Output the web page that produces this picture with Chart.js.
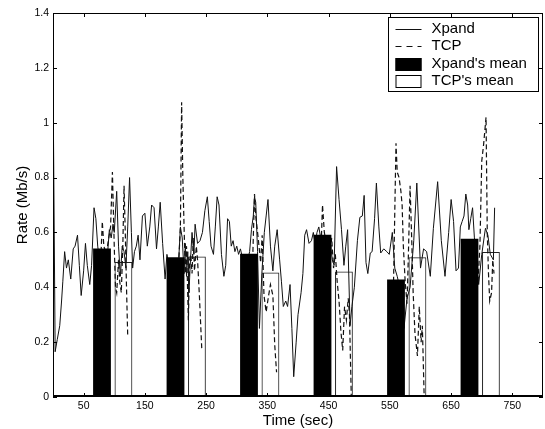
<!DOCTYPE html>
<html><head><meta charset="utf-8">
<script src="https://cdn.jsdelivr.net/npm/chart.js@4.4.1/dist/chart.umd.min.js"></script>
<style>html,body{margin:0;padding:0;background:#fff}canvas{display:block}</style>
</head><body>
<canvas id="c" width="545" height="429"></canvas>
<script>
// ---- data ----
const seriesLabels = ['Xpand', 'TCP', "Xpand's mean", "TCP's mean"];

const xpandT = [0,3.5,7,11,14,16,19,22,25,29,33,36,40,43,46,50,53,56,60,63,67,70,73,77,81,85,89,92,95,98,100,104,107,110,113,116,119,122,125,128,130,133,136,139,142,146,150,154,158,161,165,169,172,175,179,183,186,190,195,200,205,208,211,214,216,218,220,222,224,227,230,232,236,240,244,248,252,255,258,262,265,268,271,275,279,282,285,288,291,294,297,300,303,306,310,314,318,321,324,327,329,331,334,337,341,345,348,351,355,359,362,366,370,373,376,380,383,387,390,393,397,400,405,408,411,414,418,422,425,428,431,434,437,441,445,449,453,456,459,463,467,471,475,478,481,485,488,492,497,501,505,508,511,514,518,521,525,528,532,535,540,545,549,554,558,562,566,570,573,578,583,589,594,600,605,610,616,621,628,634,640,646,650,654,658,662,665,668,671,674,677,679,682,685,688,691,695,700,706,710,714,719,721];
const xpandV = [1.18,0.165,0.21,0.26,0.35,0.42,0.53,0.47,0.50,0.43,0.54,0.55,0.59,0.48,0.37,0.46,0.56,0.48,0.41,0.48,0.69,0.65,0.55,0.48,0.50,0.47,0.52,0.61,0.58,0.63,0.60,0.75,0.55,0.44,0.55,0.53,0.47,0.62,0.80,0.60,0.47,0.53,0.55,0.59,0.50,0.66,0.67,0.55,0.62,0.70,0.69,0.54,0.62,0.71,0.56,0.43,0.52,0.47,0.44,0.46,0.49,0.62,0.58,0.45,0.56,0.44,0.53,0.38,0.48,0.60,0.52,0.63,0.56,0.57,0.60,0.68,0.73,0.64,0.55,0.52,0.62,0.73,0.70,0.52,0.44,0.48,0.65,0.64,0.55,0.57,0.53,0.55,0.52,0.54,0.50,0.47,0.50,0.53,0.61,0.66,0.73,0.71,0.53,0.25,0.45,0.60,0.66,0.72,0.55,0.46,0.55,0.61,0.50,0.42,0.33,0.35,0.33,0.41,0.25,0.074,0.20,0.30,0.38,0.45,0.59,0.61,0.56,0.57,0.60,0.56,0.60,0.62,0.58,0.55,0.52,0.50,0.56,0.50,0.48,0.84,0.72,0.61,0.48,0.55,0.61,0.26,0.33,0.40,0.57,0.655,0.66,0.735,0.49,0.45,0.525,0.53,0.65,0.78,0.62,0.525,0.54,0.53,0.52,0.60,0.47,0.44,0.40,0.30,0.25,0.36,0.40,0.57,0.78,0.47,0.54,0.53,0.44,0.615,0.785,0.57,0.44,0.60,0.72,0.64,0.46,0.47,0.62,0.64,0.66,0.74,0.70,0.61,0.65,0.69,0.58,0.50,0.41,0.52,0.615,0.59,0.52,0.50,0.69];

const tcpT = [78,80.5,83,87,91,94,97,100,102,104,107,109,111.5,114,116,118,120,122,123,
  205,208,210,212,214,216,218,221,223,225,227,229,231,234,236,239,243,244,
  326,329,331,335,339,341.5,344.5,348,352,355,359,362,365,366,
  437,440,443,447,451,455,458,461,464,467,470,473,476,479,482,484,487,488,
  556,560,562,565,568,570,572,575,578,580,583,586,588,591,595,598,601,603,606,607,
  694,697,700,703,707,709,711,713,716,718,720];
const tcpV = [0.50,0.64,0.55,0.52,0.58,0.62,0.82,0.55,0.40,0.38,0.50,0.42,0.38,0.55,0.77,0.60,0.40,0.22,null,
  0.48,0.62,1.075,0.80,0.62,0.45,0.55,0.28,0.50,0.52,0.45,0.58,0.46,0.55,0.50,0.37,0.17,null,
  0.50,0.74,0.66,0.58,0.49,0.59,0.37,0.31,0.37,0.41,0.37,0.19,0.09,null,
  0.50,0.70,0.60,0.55,0.50,0.58,0.47,0.52,0.42,0.35,0.24,0.17,0.33,0.28,0.36,0.30,0.0,null,
  0.42,0.925,0.82,0.80,0.75,0.70,0.55,0.42,0.34,0.50,0.77,0.55,0.38,0.23,0.15,0.33,0.20,0.26,0.0,null,
  0.42,0.55,0.86,0.92,1.02,0.60,0.45,0.35,0.38,0.50,0.45];

const xpandMeanT = [80, 200, 320, 440, 560, 680];
const xpandMean  = [0.54, 0.508, 0.521, 0.59, 0.427, 0.576];
const tcpMeanT   = [115, 235, 355, 475, 595, 715];
const tcpMean    = [0.491, 0.511, 0.453, 0.456, 0.508, 0.527];

const xTicks = [50, 150, 250, 350, 450, 550, 650, 750];
const xTickLabels = ['50', '150', '250', '350', '450', '550', '650', '750'];
const yTicks = [0, 0.2, 0.4, 0.6, 0.8, 1.0, 1.2, 1.4];
const yTickLabels = ['0', '0.2', '0.4', '0.6', '0.8', '1', '1.2', '1.4'];

// ---- styling ----
const FONT = '"Liberation Sans", Arial, Helvetica, sans-serif';
const BAR_SEC = 28; // bar width in seconds
const zip = (t, v) => t.map((x, i) => ({ x: x, y: v[i] }));

const framePlugin = {
  id: 'frame',
  afterDraw(chart) {
    const { ctx, chartArea: a, scales: { x, y } } = chart;
    ctx.save();
    ctx.strokeStyle = '#000';
    ctx.lineWidth = 1;
    ctx.strokeRect(a.left + 0.5, a.top + 0.5, a.right - a.left - 1, a.bottom - a.top - 1);
    ctx.lineWidth = 2;
    ctx.beginPath(); ctx.moveTo(a.left, a.bottom - 1); ctx.lineTo(a.right, a.bottom - 1); ctx.stroke();
    ctx.lineWidth = 1;
    const L = 4;
    ctx.beginPath();
    xTicks.forEach(v => {
      const px = Math.round(x.getPixelForValue(v)) + 0.5;
      ctx.moveTo(px, a.bottom); ctx.lineTo(px, a.bottom - L);
      ctx.moveTo(px, a.top); ctx.lineTo(px, a.top + L);
    });
    yTicks.forEach(v => {
      const py = Math.round(y.getPixelForValue(v)) + 0.5;
      ctx.moveTo(a.left, py); ctx.lineTo(a.left + L, py);
      ctx.moveTo(a.right, py); ctx.lineTo(a.right - L, py);
    });
    ctx.stroke();

    // legend
    const ds = chart.data.datasets;
    const bw = 150, bh = 74;
    const bx = Math.round(a.right - 155) + 0.5, by = Math.round(a.top + 4) + 0.5;
    ctx.fillStyle = '#fff';
    ctx.fillRect(bx, by, bw, bh);
    ctx.strokeStyle = '#000';
    ctx.lineWidth = 1;
    ctx.strokeRect(bx, by, bw, bh);
    ctx.font = '15px ' + FONT;
    ctx.textBaseline = 'middle';
    ctx.textAlign = 'left';
    ds.forEach((d, i) => {
      const cy = by + 11 + i * 17.6;
      const sx = bx + 7, ex = bx + 33;
      if (d.type === 'line') {
        ctx.save();
        ctx.strokeStyle = d.borderColor;
        ctx.lineWidth = 1;
        ctx.setLineDash(d.borderDash ? [6, 5] : []);
        ctx.beginPath(); ctx.moveTo(sx, Math.round(cy) + 0.5); ctx.lineTo(ex, Math.round(cy) + 0.5); ctx.stroke();
        ctx.restore();
      } else {
        ctx.fillStyle = d.backgroundColor;
        ctx.fillRect(sx, Math.round(cy - 6), ex - sx, 13);
        ctx.strokeStyle = '#000';
        ctx.lineWidth = 1;
        ctx.strokeRect(sx + 0.5, Math.round(cy - 6) + 0.5, ex - sx - 1, 12);
      }
      ctx.fillStyle = '#000';
      ctx.fillText(d.label, bx + 43, cy);
    });
    ctx.restore();
  }
};

const chart = new Chart(document.getElementById('c'), {
  type: 'line',
  data: {
    datasets: [
      { type: 'line', label: seriesLabels[0], data: zip(xpandT, xpandV), borderColor: '#111', borderWidth: 1,
        pointRadius: 0, tension: 0, fill: false, order: 1 },
      { type: 'line', label: seriesLabels[1], data: zip(tcpT, tcpV), borderColor: '#111', borderWidth: 1.2,
        borderDash: [5, 3], pointRadius: 0, tension: 0, fill: false, spanGaps: false, order: 2 },
      { type: 'bar', label: seriesLabels[2], data: zip(xpandMeanT, xpandMean), backgroundColor: '#000',
        borderWidth: 0, grouped: false, order: 0 },
      { type: 'bar', label: seriesLabels[3], data: zip(tcpMeanT, tcpMean), backgroundColor: '#fff',
        borderColor: '#222', borderWidth: 1, borderSkipped: false, grouped: false, order: 3 }
    ]
  },
  options: {
    responsive: false, animation: false, devicePixelRatio: 1,
    layout: { padding: { top: 13, right: 2, left: 0, bottom: 0 } },
    plugins: { legend: { display: false }, tooltip: { enabled: false } },
    scales: {
      x: {
        type: 'linear', min: 0, max: 800, offset: false,
        grid: { display: false, drawTicks: false }, border: { display: false },
        afterBuildTicks: s => { s.ticks = xTicks.map(v => ({ value: v })); },
        afterFit: s => { s.height = 32; },
        ticks: { autoSkip: false, maxRotation: 0, padding: 3, color: '#000',
          font: { family: FONT, size: 10.5 },
          callback: v => xTickLabels[xTicks.indexOf(v)] },
        title: { display: true, text: 'Time (sec)', color: '#000', font: { family: FONT, size: 15 },
          padding: { top: 0, bottom: -1 } }
      },
      y: {
        type: 'linear', min: 0, max: 1.4,
        grid: { display: false, drawTicks: false }, border: { display: false },
        afterBuildTicks: s => { s.ticks = yTicks.map(v => ({ value: v })); },
        afterFit: s => { s.width = 53; },
        ticks: { autoSkip: false, padding: 4, color: '#000',
          font: { family: FONT, size: 10.5 },
          callback: v => yTickLabels[yTicks.findIndex(t => Math.abs(t - v) < 1e-9)] },
        title: { display: true, text: 'Rate (Mb/s)', color: '#000', font: { family: FONT, size: 15 },
          padding: { top: 14, bottom: 0 } }
      }
    }
  },
  plugins: [framePlugin]
});

// bar width: BAR_SEC seconds converted through the x scale
const xs = chart.scales.x;
const thick = xs.getPixelForValue(BAR_SEC) - xs.getPixelForValue(0);
chart.data.datasets.forEach(d => { if (d.type === 'bar') d.barThickness = thick; });
chart.update('none');
</script>
</body></html>
